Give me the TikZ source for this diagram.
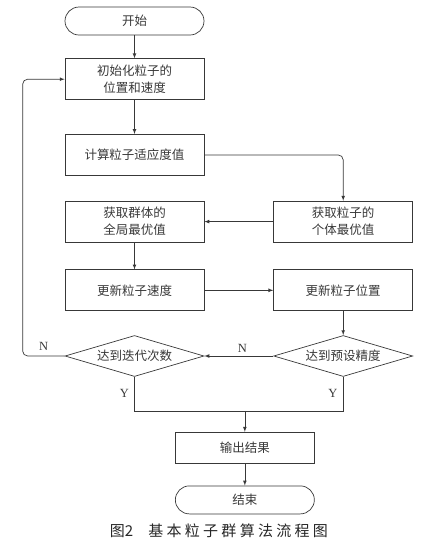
\documentclass[tikz,border=0pt]{standalone}
\usepackage{fontspec}
\setmainfont{Liberation Serif}
\newfontfamily\cjk{Noto Sans CJK SC}
\usepackage{tikz}
\usetikzlibrary{shapes.geometric, arrows, positioning, calc}
\definecolor{inkgray}{rgb}{0.22, 0.22, 0.22}
\tikzstyle{terminal}=[rectangle, rounded corners=14pt, minimum width=139pt, minimum height=28pt, align=center, draw=inkgray, text=inkgray, line width=0.7pt, font=\cjk\fontsize{12.5}{17}\selectfont]
\tikzstyle{process}=[rectangle, minimum width=139pt, minimum height=41pt, align=center, draw=inkgray, text=inkgray, line width=0.7pt, font=\cjk\fontsize{12.5}{17}\selectfont]
\tikzstyle{decision}=[diamond, aspect=3.4, minimum width=139pt, minimum height=41pt, inner sep=0pt, align=center, draw=inkgray, text=inkgray, line width=0.7pt, font=\cjk\fontsize{12.5}{17}\selectfont]
\tikzstyle{arrow}=[draw=inkgray, line width=0.7pt, ->, >=latex]
\tikzstyle{line}=[draw=inkgray, line width=0.7pt]
\tikzstyle{yn}=[text=inkgray, font=\fontsize{12.5}{14}\selectfont]

\begin{document}
\begin{tikzpicture}[x=1pt, y=1pt]
		\useasboundingbox (0,0) rectangle (436,-547);
		
		\node(start)[terminal] at (134.5,-21){开始};
		
		\node(init)[process, below=23pt of start]{初始化粒子的\\位置和速度};
		
		\node(fit)[process, below=34pt of init]{计算粒子适应度值};
		
		\node(gbest)[process, below=25pt of fit]{获取群体的\\全局最优值};
		
		\node(pbest)[process, right=69pt of gbest]{获取粒子的\\个体最优值};
		
		\node(vel)[process, below=27pt of gbest]{更新粒子速度};
		
		\node(pos)[process, right=69pt of vel]{更新粒子位置};
		
		\node(iter)[decision, below=24pt of vel]{达到迭代次数};
		
		\node(prec)[decision, right=69pt of iter]{达到预设精度};
		
		\coordinate(mid) at ($(iter.south)!0.5!(prec.south)$);
		\coordinate(join) at ([yshift=-34pt]mid);
		
		\node(out)[process, minimum height=31pt, below=55pt of mid, xshift=6pt]{输出结果};
		
		\node(end)[terminal, below=22pt of out]{结束};
		
		\node(caption)[text=black!85, font=\cjk\fontsize{15}{17}\selectfont] at (219,-531){图2\quad\addfontfeature{LetterSpace=22}基本粒子群算法流程图};
		
		\draw[arrow](start)--(init);
		\draw[arrow](init)--(fit);
		\draw[arrow, rounded corners=5pt](fit.east)-|(pbest.north);
		\draw[arrow](pbest)--(gbest);
		\draw[arrow](gbest)--(vel);
		\draw[arrow](vel)--(pos);
		\draw[arrow](pos)--(prec);
		\draw[arrow](prec.west)--node[yn, above, pos=0.45]{N}(iter.east);
		\draw[arrow, rounded corners=5pt](iter.west)--node[yn, above, yshift=2pt]{N}++(-42pt,0)|-(init.west);
		\draw[line](iter.south)|-node[yn, left, pos=0.25, xshift=-2pt]{Y}(join)-|node[yn, left, pos=0.75, xshift=-2pt]{Y}(prec.south);
		\draw[arrow](out.north|-join)--(out);
		\draw[arrow](out)--(end);
		
	\end{tikzpicture}
\end{document}
